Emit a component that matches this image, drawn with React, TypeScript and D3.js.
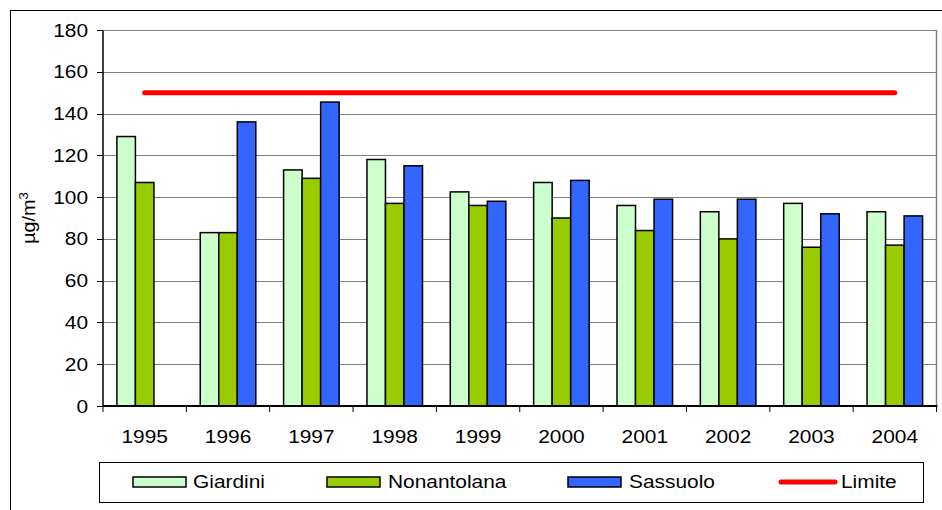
import React from "react";
import * as d3 from "d3";

const years = ["1995", "1996", "1997", "1998", "1999", "2000", "2001", "2002", "2003", "2004"];
const seriesNames = ["Giardini", "Nonantolana", "Sassuolo"];
const giardini = [129, 83, 113, 118, 102.5, 107, 96, 93, 97, 93];
const nonantolana = [107, 83, 109, 97, 96, 90, 84, 80, 76, 77];
const sassuolo: (number | null)[] = [null, 136, 145.5, 115, 98, 108, 99, 99, 92, 91];
const limite = 150;
const yTicks = [0, 20, 40, 60, 80, 100, 120, 140, 160, 180];
const colors = ["#CCFFCC", "#99CC00", "#3366FF"];
const limitColor = "#FF0000";

const SX = 1.13;

function T(props: { x: number; y: number; anchor?: string; size?: number; children: React.ReactNode }) {
  const { x, y, anchor = "start", size = 18.5, children } = props;
  return (
    <text transform={`translate(${x},${y}) scale(${SX},1)`} textAnchor={anchor} fontSize={size} fill="#000">
      {children}
    </text>
  );
}

export default function App() {
  const W = 942, H = 510;
  const L = 103, R = 936.5, Tp = 30, B = 406;
  const x0 = d3.scaleBand<string>().domain(years).range([L, R]).paddingInner(1 / 3).paddingOuter(1 / 6);
  const x1 = d3.scaleBand<string>().domain(seriesNames).range([0, x0.bandwidth()]).padding(0);
  const y = d3.scaleLinear().domain([0, 180]).range([B, Tp]);
  const data = [giardini, nonantolana, sassuolo];
  const step = x0.step();
  const font = "'Liberation Sans', Arial, sans-serif";

  const firstC = (x0(years[0]) as number) + x0.bandwidth() / 2;
  const lastC = (x0(years[years.length - 1]) as number) + x0.bandwidth() / 2;

  const legendItems = [
    { name: "Giardini", sx: 133, tx: 193 },
    { name: "Nonantolana", sx: 327, tx: 388 },
    { name: "Sassuolo", sx: 568, tx: 629 },
    { name: "Limite", sx: 779, tx: 841 },
  ];

  return (
    <svg width={W} height={H} style={{ position: "absolute", left: 0, top: 0, background: "#fff" }} fontFamily={font}>
      <rect x={10.5} y={10.5} width={940} height={520} fill="#fff" stroke="#000" strokeWidth={1} />
      {yTicks.map((t) => (
        <line key={"g" + t} x1={L} x2={R} y1={Math.round(y(t)) + 0.5} y2={Math.round(y(t)) + 0.5} stroke="#808080" strokeWidth={1} />
      ))}
      <line x1={R} x2={R} y1={Tp} y2={B} stroke="#808080" strokeWidth={1.5} />
      {yTicks.map((t) => (
        <g key={"t" + t}>
          <line x1={L - 6} x2={L} y1={Math.round(y(t)) + 0.5} y2={Math.round(y(t)) + 0.5} stroke="#000" strokeWidth={1} />
          <T x={88} y={y(t) + 6.5} anchor="end">{t}</T>
        </g>
      ))}
      {data.map((vals, si) =>
        vals.map((v, i) =>
          v == null ? null : (
            <rect
              key={si + "-" + i}
              x={(x0(years[i]) as number) + (x1(seriesNames[si]) as number)}
              y={y(v)}
              width={x1.bandwidth()}
              height={B - y(v)}
              fill={colors[si]}
              stroke="#000"
              strokeWidth={1.5}
            />
          )
        )
      )}
      <line x1={L} x2={L} y1={Tp} y2={B} stroke="#000" strokeWidth={1.5} />
      <line x1={L} x2={R + 1} y1={B} y2={B} stroke="#000" strokeWidth={2} />
      {years.map((yr, i) => (
        <line key={"xt" + yr} x1={L + i * step} x2={L + i * step} y1={B} y2={B + 6} stroke="#000" strokeWidth={1} />
      ))}
      <line x1={R} x2={R} y1={B} y2={B + 6} stroke="#000" strokeWidth={1} />
      {years.map((yr) => (
        <T key={"xl" + yr} x={(x0(yr) as number) + x0.bandwidth() / 2} y={443} anchor="middle">{yr}</T>
      ))}
      <line x1={firstC} x2={lastC} y1={y(limite)} y2={y(limite)} stroke={limitColor} strokeWidth={5} strokeLinecap="round" />
      <text transform="translate(35,218) rotate(-90) scale(1.1,1)" textAnchor="middle" fontSize={18} fill="#000">
        µg/m<tspan dy={-7} fontSize={12}>3</tspan>
      </text>
      <rect x={99.5} y={462.5} width={824} height={40} fill="#fff" stroke="#000" strokeWidth={1} />
      {legendItems.map((it, i) => (
        <g key={it.name}>
          {i < 3 ? (
            <rect x={it.sx} y={477} width={53} height={10} fill={colors[i]} stroke="#000" strokeWidth={1.5} />
          ) : (
            <line x1={it.sx + 2} x2={it.sx + 56} y1={482} y2={482} stroke={limitColor} strokeWidth={5} strokeLinecap="round" />
          )}
          <T x={it.tx} y={488}>{it.name}</T>
        </g>
      ))}
    </svg>
  );
}
